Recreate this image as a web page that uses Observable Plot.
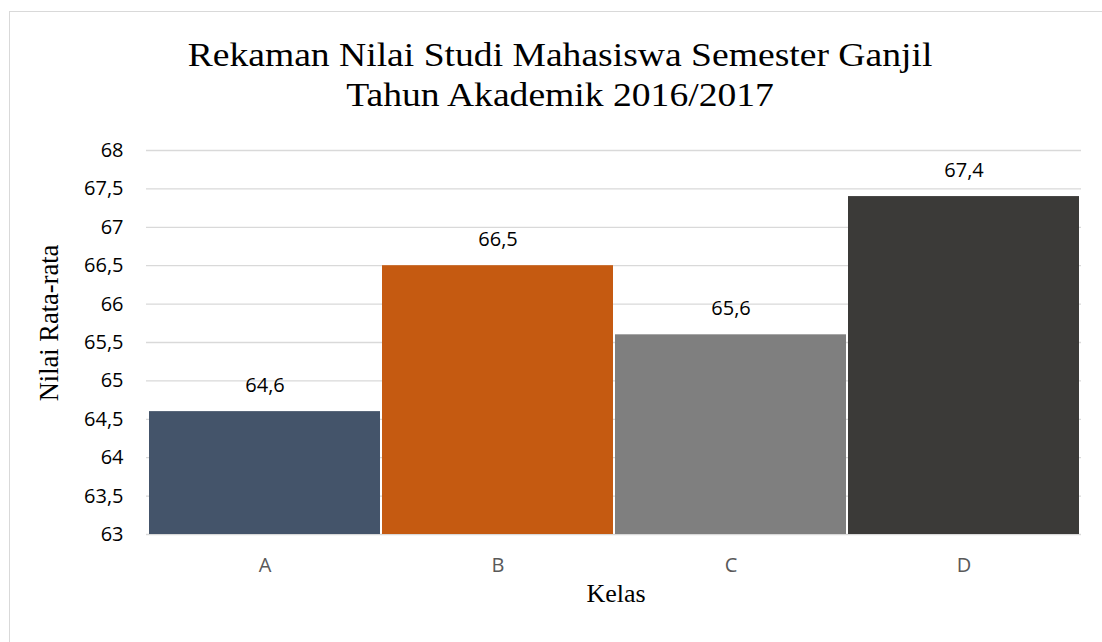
<!DOCTYPE html>
<html>
<head>
<meta charset="utf-8">
<script src="https://cdn.jsdelivr.net/npm/d3@7"></script>
<script src="https://cdn.jsdelivr.net/npm/@observablehq/plot@0.6"></script>
<style>
  html, body { margin: 0; padding: 0; background: #fff; }
  #wrap { position: relative; width: 1102px; height: 642px; overflow: hidden; }
  #border { position: absolute; left: 9px; top: 11px; width: 1200px; height: 800px;
            border-left: 1.5px solid #d9d9d9; border-top: 1.5px solid #d9d9d9; pointer-events: none; }
  #chart { position: absolute; left: 0; top: 0; }
</style>
</head>
<body>
<div id="wrap"><div id="border"></div><div id="chart"></div></div>
<script>
const categories = ["A", "B", "C", "D"];
const values = [64.6, 66.5, 65.6, 67.4];
const colors = ["#44546a", "#c55a11", "#7f7f7f", "#3b3a38"];
const yTicks = [63, 63.5, 64, 64.5, 65, 65.5, 66, 66.5, 67, 67.5, 68];
const titleLines = ["Rekaman Nilai Studi Mahasiswa Semester Ganjil", "Tahun Akademik 2016/2017"];
const yLabel = "Nilai Rata-rata";
const xLabel = "Kelas";

const fmt = d => String(d).replace(".", ",");
const data = categories.map((c, i) => ({kelas: c, nilai: values[i]}));

const chart = Plot.plot({
  width: 1102,
  height: 642,
  marginTop: 150,
  marginBottom: 108,
  marginLeft: 146,
  marginRight: 21,
  style: {fontFamily: "'Open Sans', sans-serif", background: "transparent"},
  x: {domain: categories, padding: 0, label: null},
  y: {domain: [63, 68], label: null},
  color: {domain: categories, range: colors},
  marks: [
    Plot.ruleY(yTicks, {stroke: "#d9d9d9", strokeWidth: 1.3}),
    Plot.barY(data, {x: "kelas", y1: 63, y2: "nilai", fill: "kelas", insetLeft: 1, insetRight: 1}),
    Plot.text(data, {x: "kelas", y: "nilai", text: d => fmt(d.nilai), dy: -26, fontSize: 20, fill: "#000"}),
    Plot.axisY({ticks: yTicks, tickFormat: fmt, tickSize: 0, tickPadding: 23, fontSize: 20, color: "#000", label: null}),
    Plot.axisX({tickSize: 0, tickPadding: 23, fontSize: 20, color: "#595959", label: null})
  ]
});
document.getElementById("chart").appendChild(chart);

const svg = d3.select(chart);
svg.append("g")
  .attr("font-family", "'Liberation Serif', 'Times New Roman', serif")
  .attr("font-size", 33)
  .attr("text-anchor", "middle")
  .attr("fill", "#000")
  .selectAll("text").data(titleLines).join("text")
  .attr("transform", (d, i) => `translate(560,${66 + i * 40}) scale(1.14,1)`)
  .text(d => d);

svg.append("text")
  .attr("font-family", "'Liberation Serif', 'Times New Roman', serif")
  .attr("font-size", 26.5)
  .attr("text-anchor", "middle")
  .attr("fill", "#000")
  .attr("transform", "translate(58,323) rotate(-90)")
  .text(yLabel);

svg.append("text")
  .attr("font-family", "'Liberation Serif', 'Times New Roman', serif")
  .attr("font-size", 26)
  .attr("text-anchor", "middle")
  .attr("fill", "#000")
  .attr("x", 616).attr("y", 602)
  .text(xLabel);
</script>
</body>
</html>
